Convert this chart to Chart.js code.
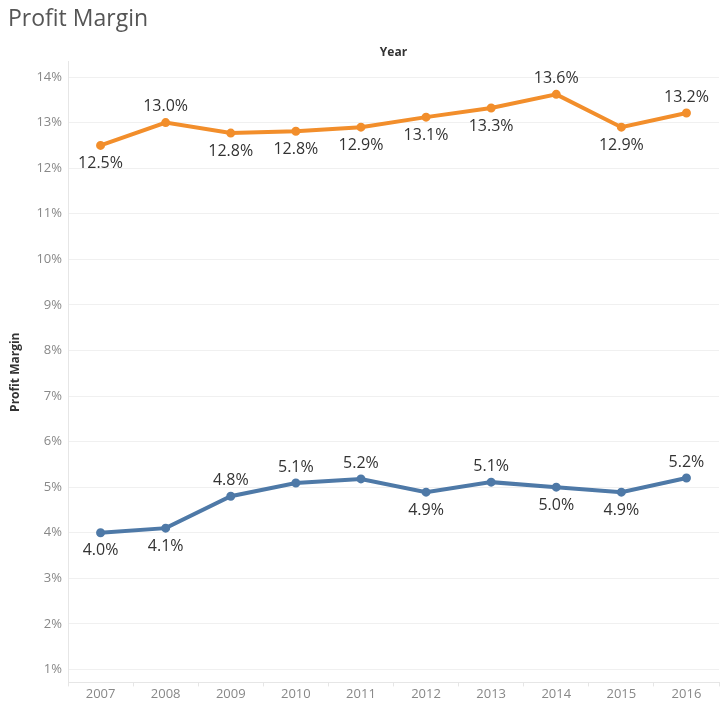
<!DOCTYPE html>
<html>
<head>
<meta charset="utf-8">
<title>Profit Margin</title>
<script src="https://cdn.jsdelivr.net/npm/chart.js@4.4.1/dist/chart.umd.min.js"></script>
<style>
    html, body { margin: 0; padding: 0; background: #fff; overflow: hidden; }
    #ct-chart { display: block; }
</style>
</head>
<body>
<canvas id="ct-chart" width="720" height="721"></canvas>
<script>
"use strict";

const years = ["2007", "2008", "2009", "2010", "2011", "2012", "2013", "2014", "2015", "2016"];
const marginHigh = [12.5, 13.0, 12.77, 12.81, 12.9, 13.12, 13.32, 13.62, 12.9, 13.21];
const marginLow = [4.0, 4.1, 4.8, 5.09, 5.18, 4.89, 5.11, 5.0, 4.89, 5.2];
const yTicks = [1, 2, 3, 4, 5, 6, 7, 8, 9, 10, 11, 12, 13, 14];

// which side of the point each value label sits on
const labelSide = [
    ["b", "t", "b", "b", "b", "b", "b", "t", "b", "t"],
    ["b", "b", "t", "t", "t", "b", "t", "b", "b", "t"]
];

const pointLabels = {
    id: 'pointLabels',
    afterDatasetsDraw(chart) {
        const ctx = chart.ctx;
        ctx.save();
        ctx.font = '16px "Open Sans", sans-serif';
        ctx.fillStyle = '#333333';
        ctx.textAlign = 'center';
        ctx.textBaseline = 'middle';
        chart.data.datasets.forEach((ds, i) => {
            const meta = chart.getDatasetMeta(i);
            meta.data.forEach((pt, j) => {
                const dy = labelSide[i][j] === "t" ? -16 : 18;
                ctx.fillText(ds.data[j].toFixed(1) + '%', pt.x, pt.y + dy);
            });
        });
        ctx.restore();
    }
};

// the category axis reserves room for half a label at each end; not wanted here
const noSidePadding = scale => {
    scale.paddingLeft = 0;
    scale.paddingRight = 0;
};

const ctx = document.getElementById('ct-chart').getContext('2d');

new Chart(ctx, {
    type: 'line',
    data: {
        labels: years,
        datasets: [{
            label: 'High',
            data: marginHigh,
            borderColor: '#f28e2b',
            backgroundColor: '#f28e2b',
            borderWidth: 4,
            pointRadius: 2.5,
            pointHoverRadius: 2.5,
            tension: 0
        }, {
            label: 'Low',
            data: marginLow,
            borderColor: '#4e79a7',
            backgroundColor: '#4e79a7',
            borderWidth: 4,
            pointRadius: 2.5,
            pointHoverRadius: 2.5,
            tension: 0
        }]
    },
    options: {
        responsive: false,
        animation: false,
        layout: {
            autoPadding: false,
            padding: { left: 8, right: 1, top: 0, bottom: 19 }
        },
        scales: {
            x: {
                offset: true,
                afterFit: noSidePadding,
                grid: {
                    offset: true,
                    drawOnChartArea: false,
                    tickLength: 4,
                    color: '#e6e6e6'
                },
                border: { color: '#e6e6e6' },
                ticks: {
                    color: '#888888',
                    font: { size: 13, family: '"Open Sans", sans-serif' },
                    padding: 0
                }
            },
            xTop: {
                type: 'category',
                labels: years,
                position: 'top',
                afterFit: noSidePadding,
                grid: { display: false, drawTicks: false },
                border: { display: false },
                ticks: { display: false },
                title: {
                    display: true,
                    text: 'Year',
                    color: '#333333',
                    font: { size: 12, weight: 'bold', family: '"Open Sans", sans-serif' },
                    padding: { top: 0, bottom: 2 }
                }
            },
            y: {
                min: 0.715,
                max: 14.33,
                afterBuildTicks: scale => {
                    scale.ticks = yTicks.map(v => ({ value: v }));
                },
                grid: { color: '#f0f0f0', drawTicks: false },
                border: { color: '#e6e6e6' },
                ticks: {
                    color: '#888888',
                    font: { size: 13, family: '"Open Sans", sans-serif' },
                    padding: 6,
                    callback: v => v + '%'
                },
                title: {
                    display: true,
                    text: 'Profit Margin',
                    color: '#333333',
                    font: { size: 12, weight: 'bold', family: '"Open Sans", sans-serif' },
                    padding: { top: 0, bottom: 8 }
                }
            }
        },
        plugins: {
            legend: { display: false },
            tooltip: { enabled: false },
            title: {
                display: true,
                text: 'Profit Margin',
                align: 'start',
                color: '#555555',
                font: { size: 23, weight: 'normal', family: '"Open Sans", sans-serif' },
                padding: { top: 6, bottom: 12 }
            }
        }
    },
    plugins: [pointLabels]
});
</script>
</body>
</html>
